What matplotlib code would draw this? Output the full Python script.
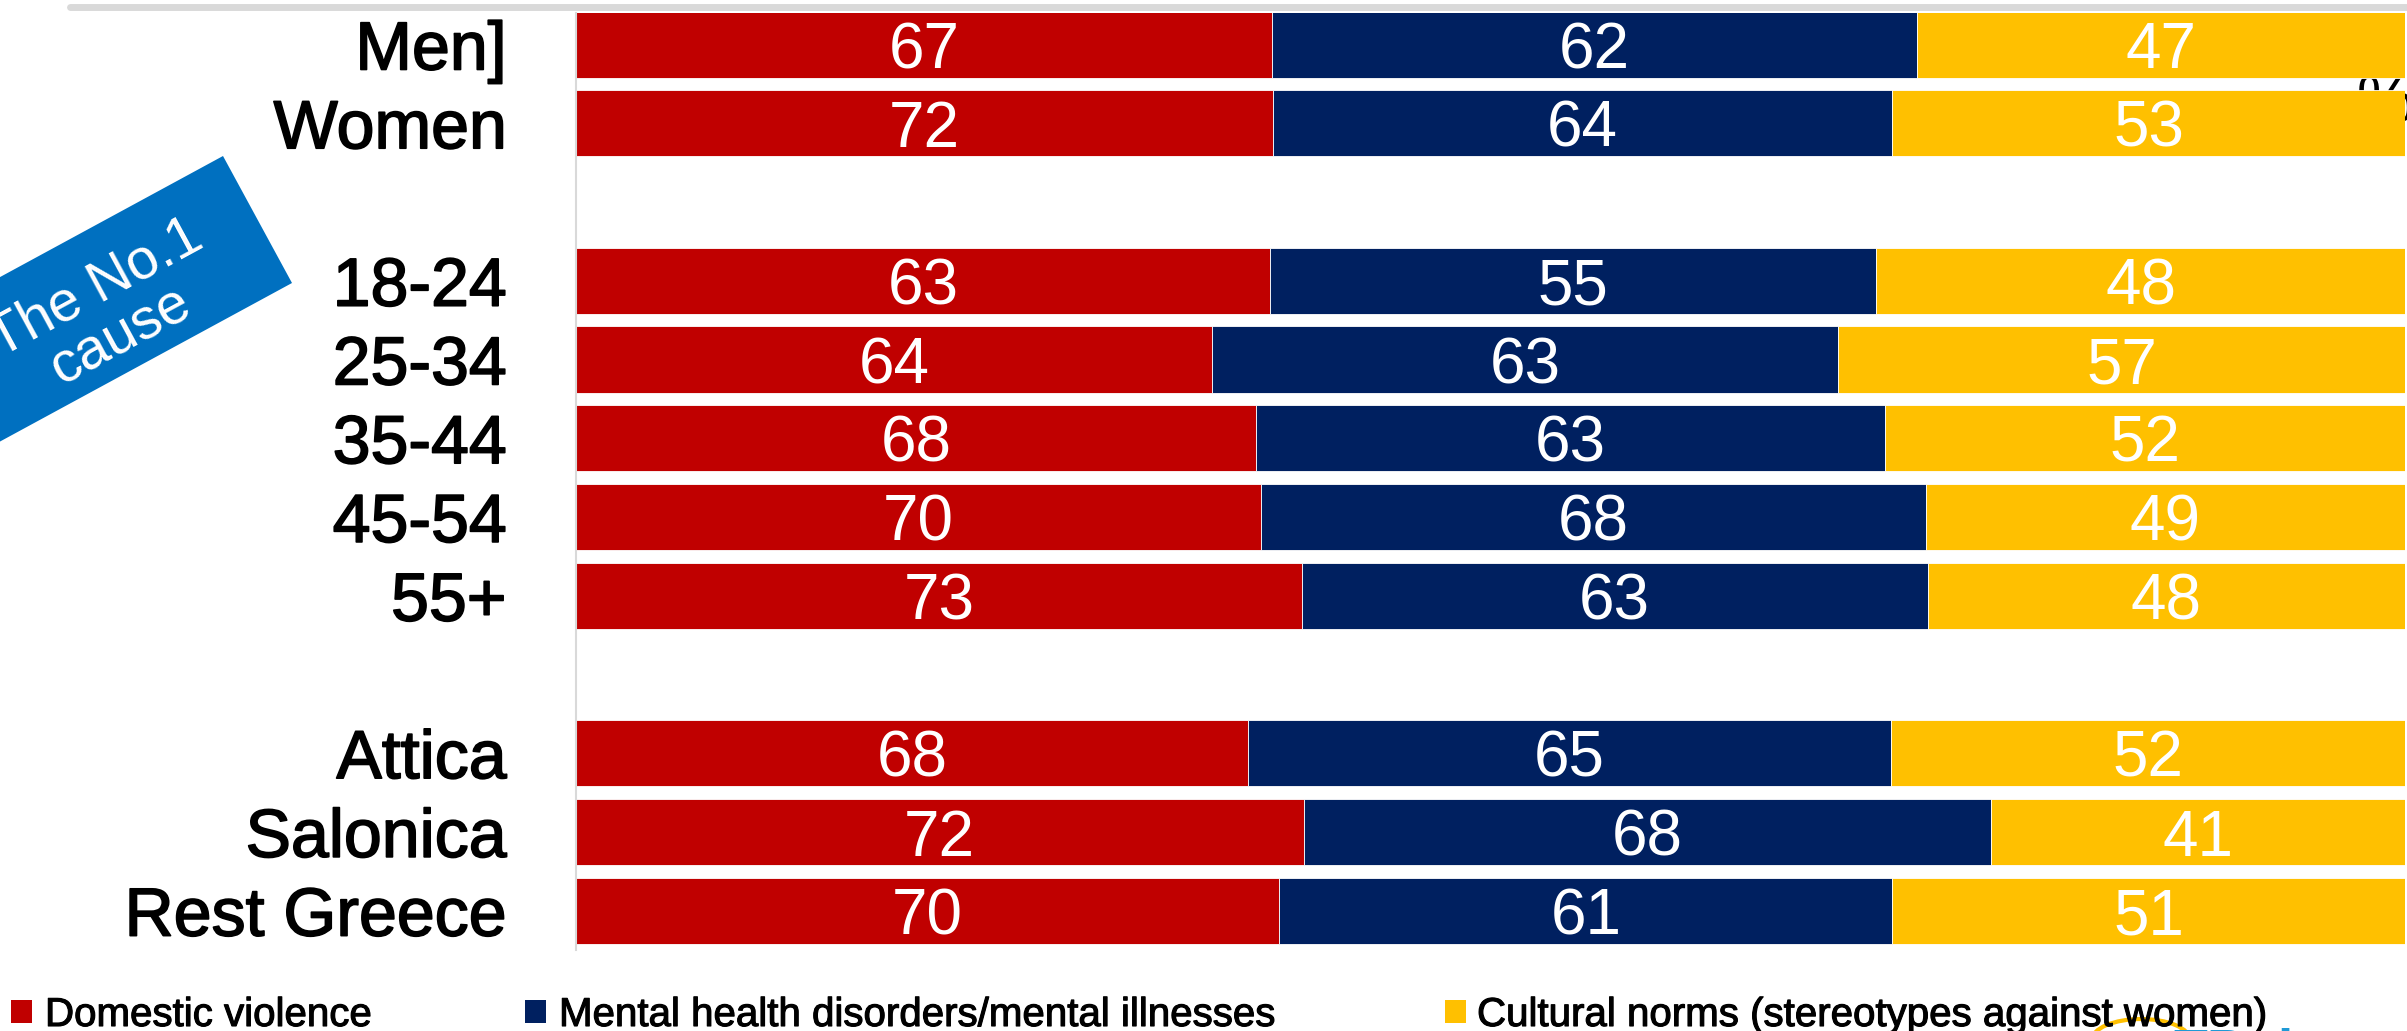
import numpy as np
import matplotlib
matplotlib.use("Agg")
from matplotlib import pyplot as plt
from matplotlib import patheffects as pe
from matplotlib.patches import Polygon, Rectangle, Circle
from matplotlib.lines import Line2D

# data
groups = ["Men]", "Women", "", "18-24", "25-34", "35-44", "45-54", "55+",
          "", "Attica", "Salonica", "Rest Greece"]
domestic = [67, 72, 0, 63, 64, 68, 70, 73, 0, 68, 72, 70]
mental = [62, 64, 0, 55, 63, 63, 68, 63, 0, 65, 68, 61]
cultural = [47, 53, 0, 48, 57, 52, 49, 48, 0, 52, 41, 51]
series_names = ["Domestic violence",
                "Mental health disorders/mental illnesses",
                "Cultural norms (stereotypes against women)"]
colors = ["#C00000", "#002060", "#FFC000"]

W, H = 2407, 1031
plt.rcParams["font.family"] = ["Liberation Sans", "DejaVu Sans"]
heavy = [pe.withStroke(linewidth=1.2, foreground="black")]

fig = plt.figure(figsize=(W / 100, H / 100), dpi=100)
ax = fig.add_axes([576 / W, (H - 950) / H, (2405 - 576) / W, 937 / H])

vals = np.array([domestic, mental, cultural], dtype=float)
totals = vals.sum(axis=0)
totals[totals == 0] = 1
shares = vals / totals * 100
y = np.arange(len(groups))

left = np.zeros(len(groups))
for k in range(3):
    mask = vals[k] > 0
    ax.barh(y[mask], shares[k][mask], left=left[mask], height=0.84,
            color=colors[k], edgecolor="white", linewidth=0.6, zorder=2)
    for yi, l, s, v in zip(y[mask], left[mask], shares[k][mask], vals[k][mask]):
        ax.text(l + s / 2, yi + 0.3, f"{int(v)}", ha="center", va="baseline",
                color="white", fontsize=46, zorder=3)
    left = left + shares[k]

ax.set_xlim(0, 100)
ax.set_ylim(11.5, -0.4)
ax.set_yticks(y)
ax.set_yticklabels(groups, fontsize=49)
for lab in ax.get_yticklabels():
    lab.set_path_effects(heavy)
ax.tick_params(axis="y", length=0, pad=50)
ax.set_xticks([])
for side in ["top", "right", "bottom"]:
    ax.spines[side].set_visible(False)
ax.spines["left"].set_color("#d9d9d9")
ax.spines["left"].set_linewidth(1.5)

# "%" peeking from behind the bars
fig.text(2385 / W, 1 - 105 / H, "%", fontsize=46, ha="center", va="center",
         zorder=0)
ax.set_zorder(2)
ax.patch.set_alpha(0)

# gray line across the top
fig.add_artist(Line2D([70 / W, 1.01], [1 - 6.5 / H, 1 - 6.5 / H],
                      color="#d9d9d9", linewidth=5, solid_capstyle="round"))

# rotated blue label
ang = np.deg2rad(28.5)
p1 = np.array([223.0, H - 156.0])
p2 = np.array([292.0, H - 283.0])
d = np.array([-np.cos(ang), -np.sin(ang)])
pts = [p1, p2, p2 + 500 * d, p1 + 500 * d]
pts = [(p[0] / W, p[1] / H) for p in pts]
fig.add_artist(Polygon(pts, closed=True, transform=fig.transFigure,
                       facecolor="#0070C0", edgecolor="none"))
fig.text(108 / W, 1 - 312 / H, "The No.1\ncause", color="white", fontsize=41,
         rotation=28.5, rotation_mode="anchor", ha="center", va="center",
         multialignment="center", linespacing=1.0)

# legend
sq_x = [11, 525, 1445]
tx_x = [45, 559, 1477]
for name, c, sx, tx in zip(series_names, colors, sq_x, tx_x):
    fig.add_artist(Rectangle((sx / W, (H - 1023) / H), 21 / W, 23 / H,
                             transform=fig.transFigure, facecolor=c,
                             edgecolor="none"))
    fig.text(tx / W, (H - 1026) / H, name, fontsize=29, ha="left",
             va="baseline", path_effects=[pe.withStroke(linewidth=0.8,
                                                        foreground="black")])

# logo bits cut off at the bottom
fig.add_artist(Circle((2141 / W, (H - 1040) / H), 21 / H,
                      transform=fig.transFigure, fill=False,
                      edgecolor="#FFC000", linewidth=3))
fig.text(2173 / W, (H - 1027) / H, "TPulse", color="#1F9AD6", fontsize=40,
         ha="left", va="top", fontweight="bold")

fig.savefig("out.png", dpi=100)
